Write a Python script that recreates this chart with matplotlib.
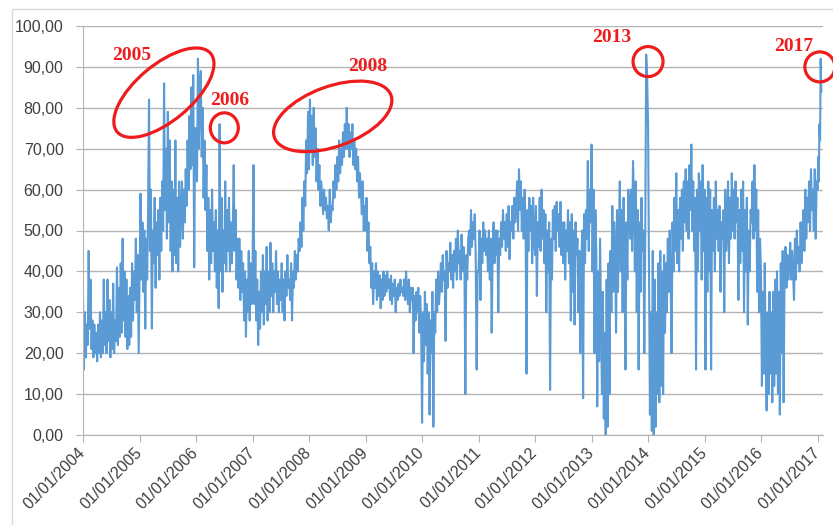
import numpy as np
import pandas as pd
import matplotlib
matplotlib.use("Agg")
import matplotlib.pyplot as plt
import matplotlib.dates as mdates
from matplotlib.patches import Ellipse, Rectangle
from matplotlib.ticker import FuncFormatter
from matplotlib.transforms import IdentityTransform

# readings, 5 per month (highs / lows of the daily band)
v2004 = [34, 16, 30, 19, 27,  22, 45, 26, 38, 21,  28, 19, 27, 20, 25,
         18, 27, 20, 30, 19,  28, 20, 38, 22, 30,  20, 38, 23, 33, 19,
         30, 21, 37, 20, 28,  23, 41, 22, 36, 24,  42, 25, 48, 28, 40,
         24, 38, 21, 34, 22,  36, 24, 42, 28, 40,  33, 48, 30, 44, 20]
v2005 = [40, 59, 38, 52, 35,  50, 26, 48, 38, 55,  82, 45, 60, 26, 50,
         42, 58, 36, 52, 44,  55, 38, 58, 45, 62,  50, 86, 55, 70, 48,
         79, 52, 72, 45, 62,  40, 60, 44, 72, 42,  58, 40, 62, 46, 55,
         62, 48, 60, 52, 65,  56, 72, 60, 78, 65,  85, 66, 88, 41, 75]
v2006 = [75, 62, 92, 70, 85,  89, 68, 80, 58, 72,  55, 66, 45, 58, 38,
         55, 42, 60, 45, 52,  40, 55, 36, 50, 31,  76, 40, 58, 35, 50,
         42, 62, 40, 55, 45,  58, 40, 52, 42, 50,  66, 45, 55, 38, 48,
         36, 48, 33, 45, 35,  42, 28, 40, 24, 38,  30, 45, 28, 42, 32]
v2007 = [40, 66, 32, 45, 28,  38, 22, 35, 26, 40,  30, 44, 27, 40, 32,
         46, 28, 40, 30, 47,  34, 42, 30, 40, 35,  45, 32, 40, 30, 38,
         33, 42, 30, 38, 28,  40, 34, 44, 36, 38,  33, 42, 28, 40, 36,
         45, 38, 44, 40, 48,  45, 52, 46, 58, 50,  62, 56, 72, 64, 79]
v2008 = [65, 82, 70, 78, 66,  80, 68, 75, 62, 70,  60, 66, 56, 62, 58,
         54, 60, 55, 58, 53,  56, 50, 60, 52, 56,  55, 62, 58, 66, 60,
         68, 62, 72, 64, 70,  66, 74, 68, 76, 70,  80, 70, 76, 68, 74,
         70, 76, 66, 72, 65,  70, 62, 68, 58, 64,  60, 54, 62, 50, 56]
v2009 = [50, 58, 45, 52, 42,  46, 36, 42, 32, 40,  36, 42, 33, 40, 34,
         39, 31, 38, 33, 40,  34, 39, 35, 40, 36,  38, 33, 39, 32, 37,
         34, 38, 30, 36, 33,  37, 34, 38, 35, 36,  34, 38, 33, 40, 35,
         32, 38, 30, 36, 33,  36, 20, 34, 28, 35,  30, 36, 25, 34, 28]
v2010 = [3, 30, 18, 35, 22,   32, 15, 30, 5, 28,   20, 35, 2, 30, 25,
         38, 30, 40, 32, 36,  42, 35, 44, 38, 40,  23, 45, 36, 42, 40,
         47, 38, 44, 36, 45,  40, 48, 38, 50, 42,  45, 38, 49, 40, 46,
         42, 10, 44, 38, 48,  50, 44, 55, 46, 52,  48, 54, 44, 16, 40]
v2011 = [40, 50, 33, 48, 42,  52, 45, 50, 44, 48,  40, 50, 38, 48, 25,
         45, 52, 42, 50, 44,  50, 30, 48, 44, 52,  46, 55, 48, 52, 45,
         54, 46, 56, 43, 52,  50, 56, 48, 58, 52,  56, 62, 50, 65, 55,
         62, 50, 58, 48, 60,  52, 15, 55, 45, 58,  50, 56, 42, 58, 48]
v2012 = [44, 56, 34, 52, 46,  58, 45, 60, 48, 55,  42, 54, 30, 50, 40,
         52, 11, 48, 38, 55,  48, 56, 45, 57, 50,  54, 46, 57, 44, 52,
         42, 52, 38, 50, 45,  55, 42, 52, 28, 54,  35, 50, 27, 52, 44,
         48, 30, 45, 20, 40,  50, 9, 54, 42, 55,   48, 67, 45, 60, 52]
v2013 = [71, 40, 60, 20, 55,  45, 7, 40, 18, 48,   30, 10, 35, 4, 25,
         0, 38, 2, 42, 10,    45, 30, 56, 35, 52,  45, 25, 55, 35, 50,
         62, 40, 55, 30, 58,  45, 16, 52, 38, 60,  55, 48, 60, 45, 67,
         58, 40, 62, 30, 55,  16, 52, 35, 58, 45,  50, 20, 48, 93, 88]
v2014 = [76, 40, 5, 30, 1,    45, 0, 38, 2, 30,    10, 42, 8, 45, 12,
         40, 10, 44, 25, 42,  30, 48, 35, 50, 38,  20, 52, 40, 58, 45,
         64, 42, 55, 40, 58,  48, 60, 45, 62, 52,  65, 50, 62, 48, 66,
         55, 71, 50, 62, 45,  58, 16, 60, 40, 64,  50, 62, 38, 66, 45]
v2015 = [60, 16, 58, 35, 62,  40, 60, 16, 55, 45,  58, 40, 62, 48, 55,
         45, 56, 35, 52, 48,  55, 30, 60, 45, 50,  62, 42, 58, 48, 64,
         50, 60, 48, 62, 52,  58, 33, 55, 42, 60,  45, 62, 30, 55, 40,
         58, 27, 50, 40, 55,  52, 62, 48, 66, 50,  60, 35, 55, 30, 48]
v2016 = [40, 12, 35, 15, 42,  20, 6, 30, 10, 35,   15, 30, 8, 35, 12,
         38, 15, 40, 10, 35,  5, 42, 20, 45, 8,    40, 46, 36, 44, 38,
         42, 47, 38, 45, 40,  33, 48, 38, 50, 42,  46, 40, 52, 42, 50,
         55, 45, 60, 48, 58,  52, 62, 50, 65, 55,  60, 50, 65, 48, 62]
v2017 = [60, 68, 62, 76, 72, 92, 84]   # first weeks of January

years = list(range(2004, 2017))
yearly = [v2004, v2005, v2006, v2007, v2008, v2009, v2010,
          v2011, v2012, v2013, v2014, v2015, v2016]

ann_labels = ["2005", "2006", "2008", "2013", "2017"]
ann_text_pos = [(2004.87, 92.9), (2006.60, 81.9), (2009.04, 90.0), (2013.36, 97.1), (2016.58, 95.1)]
ann_ring_pos = [(2005.43, 83.7), (2006.50, 75.1), (2008.42, 77.9), (2014.00, 91.3), (2017.04, 90.0)]
ann_ring_size = [(122, 56, 40), (28, 30, 0), (124, 60, 20), (30, 30, 0), (30, 30, 0)]


def yr(y):
    # decimal year -> matplotlib date number
    d = pd.Timestamp(f"{int(y)}-01-01") + pd.Timedelta(days=(y - int(y)) * 365.25)
    return mdates.date2num(d)


dates = []
vals = []
for y, v in zip(years, yearly):
    start = pd.Timestamp(f"{y}-01-01")
    n_days = (pd.Timestamp(f"{y + 1}-01-01") - start).days
    dates += [start + pd.Timedelta(days=i * n_days / len(v)) for i in range(len(v))]
    vals += v
dates += [pd.Timestamp("2017-01-01") + pd.Timedelta(days=4 * i) for i in range(len(v2017))]
vals += v2017

fig = plt.figure(figsize=(8.33, 5.25), dpi=100)
ax = fig.add_axes([83 / 833, 90 / 525, 740 / 833, 409 / 525])

ax.plot(dates, vals, color="#5b9bd5", lw=1.5)

ax.set_ylim(0, 100)
ax.set_xlim(pd.Timestamp("2004-01-01"), pd.Timestamp("2017-02-05"))
ax.set_yticks(range(0, 101, 10))
ax.yaxis.set_major_formatter(FuncFormatter(lambda v, p: f"{v:.2f}".replace(".", ",")))
xt = [pd.Timestamp(f"{y}-01-01") for y in range(2004, 2018)]
ax.set_xticks(xt)
ax.set_xticklabels([d.strftime("%d/%m/%Y") for d in xt], rotation=45,
                   ha="right", va="center", rotation_mode="anchor")

ax.grid(axis="y", color="#b4b4b4", lw=1)
ax.set_axisbelow(True)
for s in ["top", "right"]:
    ax.spines[s].set_visible(False)
for s in ["left", "bottom"]:
    ax.spines[s].set_color("#b4b4b4")
ax.tick_params(direction="out", length=5, color="#b4b4b4", labelsize=11.5,
               labelcolor="#404040")
ax.tick_params(axis="y", pad=9)
ax.tick_params(axis="x", pad=6)
for t in ax.get_xticklabels() + ax.get_yticklabels():
    t.set_fontfamily("Liberation Sans")

# red call-outs
for lab, tp, rp, rs in zip(ann_labels, ann_text_pos, ann_ring_pos, ann_ring_size):
    ax.text(yr(tp[0]), tp[1], lab, color="#ee1c1c", fontsize=14, fontweight="bold",
            family="Liberation Serif", ha="center", va="center", clip_on=False)
    cx, cy = ax.transData.transform((yr(rp[0]), rp[1]))
    fig.add_artist(Ellipse((cx, cy), rs[0], rs[1], angle=rs[2], transform=IdentityTransform(),
                           fill=False, ec="#ee1c1c", lw=2.3))

fig.add_artist(Rectangle((12 / 833, -0.1), 1.0, (525 - 9) / 525 + 0.1,
                         transform=fig.transFigure, fill=False, ec="#d9d9d9", lw=1))

fig.savefig("out.png", dpi=100)
